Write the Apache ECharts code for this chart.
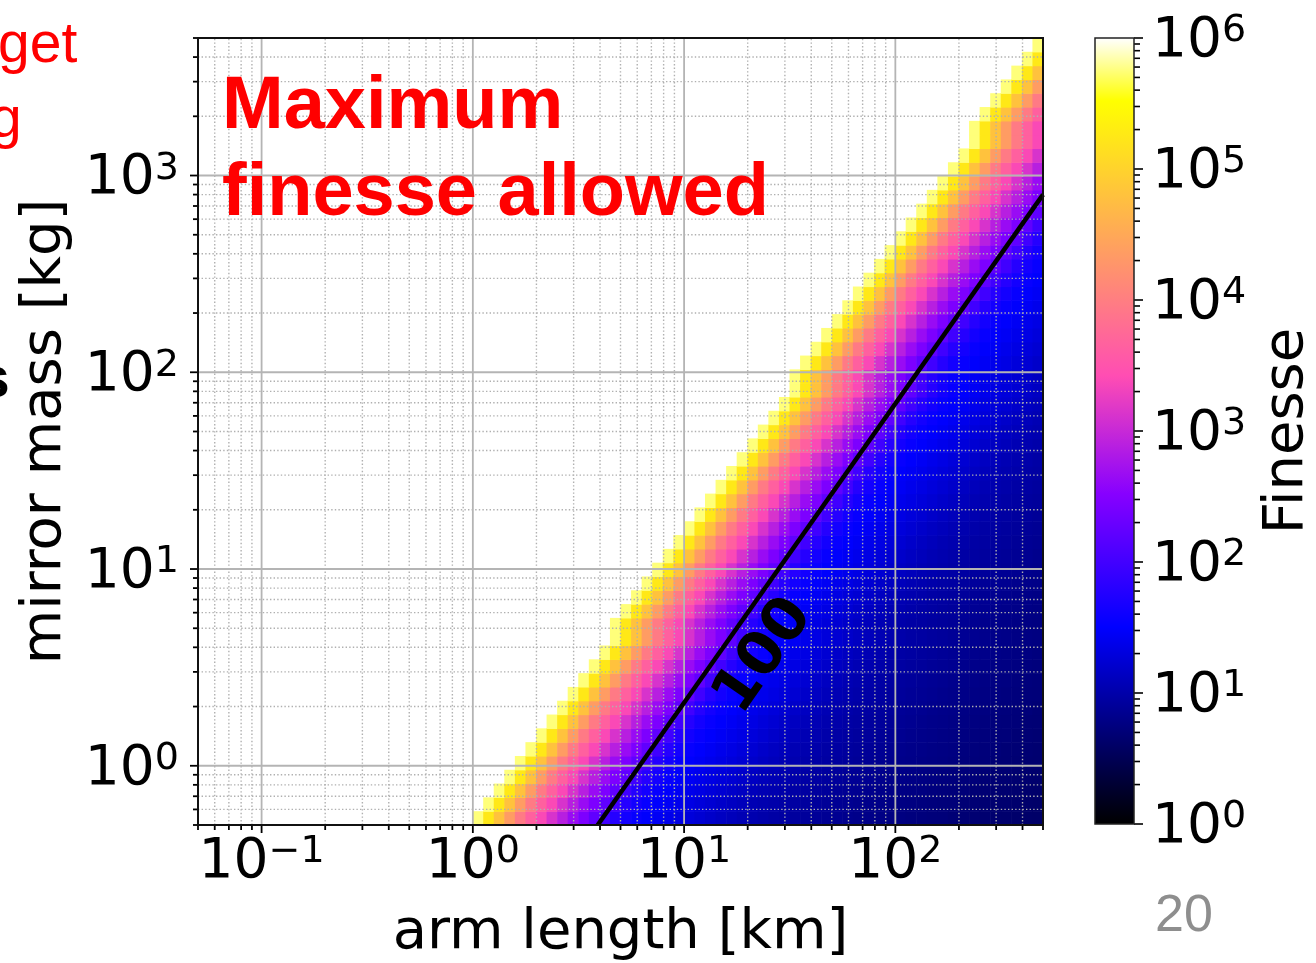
<!DOCTYPE html>
<html>
<head>
<meta charset="utf-8">
<script src="https://cdn.jsdelivr.net/npm/echarts@6/dist/echarts.min.js"></script>
<style>
html, body { margin: 0; padding: 0; background: #ffffff; overflow: hidden; }
#chart { width: 1316px; height: 963px; }
</style>
</head>
<body>
<div id="chart"></div>
<script>
// ================= DATA =================
// cell edges of the arm-length grid [km]
const armLengthEdges = [
  0.05, 0.0561, 0.06295, 0.07063, 0.07924, 0.08891, 0.09976, 0.11194, 0.12559, 0.14092,
  0.15811, 0.17741, 0.19905, 0.22334, 0.25059, 0.28117, 0.31548, 0.35397, 0.39716, 0.44563,
  0.5, 0.561, 0.6295, 0.7063, 0.7924, 0.8891, 0.9976, 1.1194, 1.2559, 1.4092,
  1.5811, 1.7741, 1.9905, 2.2334, 2.5059, 2.8117, 3.1548, 3.5397, 3.9716, 4.4563,
  5, 5.61, 6.295, 7.063, 7.924, 8.891, 9.976, 11.194, 12.559, 14.092,
  15.811, 17.741, 19.905, 22.334, 25.059, 28.117, 31.548, 35.397, 39.716, 44.563,
  50, 56.1, 62.95, 70.63, 79.24, 88.91, 99.76, 111.94, 125.59, 140.92,
  158.11, 177.41, 199.05, 223.34, 250.59, 281.17, 315.48, 353.97, 397.16, 445.63,
  500
];
// cell edges of the mirror-mass grid [kg]
const mirrorMassEdges = [
  0.5, 0.5877, 0.6909, 0.8121, 0.9543, 1.1215, 1.3183, 1.5497, 1.8213, 2.1407,
  2.516, 2.957, 3.476, 4.086, 4.802, 5.644, 6.634, 7.797, 9.165, 10.77,
  12.66, 14.88, 17.49, 20.56, 24.17, 28.40, 33.39, 39.24, 46.12, 54.21,
  63.72, 74.89, 88.03, 103.45, 121.6, 142.9, 168.0, 197.5, 232.1, 272.8,
  320.7, 376.9, 443.0, 520.7, 612.0, 719.4, 845.5, 993.6, 1168, 1373,
  1613, 1896, 2229, 2620, 3079, 3619, 4254, 5000
];
// first coloured arm-length cell of every mass row (bottom row first)
const boundaryColumn = [
  26, 27, 28, 29, 30, 31, 32, 33, 34, 35, 36, 37, 38, 39,
  39, 40, 41, 42, 43, 44, 45, 46, 47, 48, 49, 50, 51, 52, 53, 54, 55, 56,
  56, 57, 58, 59, 60, 61, 62, 63, 64, 65, 66, 67, 68, 69, 70, 71, 72, 73,
  73, 74, 75, 76, 77, 78, 79
];
// log10(finesse) of the cells of a row, counted from its first coloured cell
const log10FinesseProfile = [
  5.75, 5.25, 4.8, 4.35, 3.95, 3.65, 3.38, 3.12, 2.88, 2.65,
  2.44, 2.22, 1.98, 1.78, 1.64, 1.55, 1.49, 1.44, 1.39, 1.34,
  1.29, 1.24, 1.19, 1.14, 1.1, 1.06, 1.03, 1.0, 0.97, 0.95,
  0.93, 0.91, 0.89, 0.87, 0.85, 0.83, 0.81, 0.8, 0.78, 0.77,
  0.76, 0.74, 0.73, 0.72, 0.71, 0.69, 0.68, 0.67, 0.66, 0.65,
  0.64, 0.63, 0.62, 0.61
];
// contour line finesse = 100 : [arm length km, mirror mass kg]
const contour100 = [[3.9, 0.5], [500, 800]];
const contourLabelPoint = [[24, 3.6]];
const contourLabelText = '100';

const armRange = [0.05, 500];
const massRange = [0.5, 5000];
const finesseRange = [1, 1e6];

const xMajorTicks = [0.1, 1, 10, 100];
const xMinorTicks = [0.05, 0.06, 0.07, 0.08, 0.09, 0.2, 0.3, 0.4, 0.5, 0.6, 0.7, 0.8, 0.9,
  2, 3, 4, 5, 6, 7, 8, 9, 20, 30, 40, 50, 60, 70, 80, 90, 200, 300, 400, 500];
const yMajorTicks = [1, 10, 100, 1000];
const yMinorTicks = [0.5, 0.6, 0.7, 0.8, 0.9, 2, 3, 4, 5, 6, 7, 8, 9,
  20, 30, 40, 50, 60, 70, 80, 90, 200, 300, 400, 500, 600, 700, 800, 900, 2000, 3000, 4000, 5000];
const cbMajorTicks = [1, 10, 100, 1000, 10000, 100000, 1000000];
const cbMinorTicks = [2, 3, 4, 5, 6, 7, 8, 9, 20, 30, 40, 50, 60, 70, 80, 90,
  200, 300, 400, 500, 600, 700, 800, 900, 2000, 3000, 4000, 5000, 6000, 7000, 8000, 9000,
  20000, 30000, 40000, 50000, 60000, 70000, 80000, 90000,
  200000, 300000, 400000, 500000, 600000, 700000, 800000, 900000];

// ================= helpers =================
function clamp01(v) { return Math.max(0, Math.min(1, v)); }
// matplotlib "gnuplot2" colormap
function gnuplot2(t) {
  t = clamp01(t);
  const r = clamp01(t / 0.32 - 0.78125);
  const g = clamp01(2 * t - 0.84);
  let b;
  if (t < 0.25) b = 4 * t;
  else if (t < 0.42) b = 1;
  else if (t < 0.92) b = -2 * t + 1.84;
  else b = t / 0.08 - 11.5;
  b = clamp01(b);
  return 'rgb(' + Math.round(r * 255) + ',' + Math.round(g * 255) + ',' + Math.round(b * 255) + ')';
}
const gnuplot2Stops = [
  { offset: 0, color: 'rgb(0,0,0)' },
  { offset: 0.25, color: 'rgb(0,0,255)' },
  { offset: 0.42, color: 'rgb(135,0,255)' },
  { offset: 0.57, color: 'rgb(255,77,179)' },
  { offset: 0.92, color: 'rgb(255,255,0)' },
  { offset: 1, color: 'rgb(255,255,255)' }
];

function powLabel(v) {
  const e = Math.log10(v);
  const n = Math.round(e);
  if (Math.abs(e - n) > 1e-6) return '';
  return '{b|10}{s|' + (n < 0 ? '\u2212' + (-n) : String(n)) + '}';
}
const FONT = 'DejaVu Sans';
const richTick = {
  b: { fontFamily: FONT, fontSize: 55, color: '#000', lineHeight: 56, padding: [7, 0, 0, 0] },
  s: { fontFamily: FONT, fontSize: 38, color: '#000', lineHeight: 50, padding: [0, 0, 13, 0] }
};

// heatmap cells built from the arrays above
const cells = [];
for (let r = 0; r < mirrorMassEdges.length - 1; r++) {
  const start = boundaryColumn[r];
  for (let c = start; c < armLengthEdges.length - 1; c++) {
    const k = c - start;
    if (k >= log10FinesseProfile.length) break;
    cells.push([armLengthEdges[c], mirrorMassEdges[r], armLengthEdges[c + 1], mirrorMassEdges[r + 1], log10FinesseProfile[k]]);
  }
}

const tickStyle = { stroke: '#000', lineWidth: 1.8 };
const majorGridStyle = { stroke: '#b4b4b4', lineWidth: 1.8 };
const minorGridStyle = { stroke: '#b0b0b0', lineWidth: 1.4, lineDash: [1.4, 2.2] };

function xLinesRenderer(len, gridStyle) {
  return function (params, api) {
    const v = api.value(0);
    const bot = api.coord([v, massRange[0]]);
    const top = api.coord([v, massRange[1]]);
    return {
      type: 'group', children: [
        { type: 'line', shape: { x1: bot[0], y1: bot[1], x2: top[0], y2: top[1] }, style: gridStyle },
        { type: 'line', shape: { x1: bot[0], y1: bot[1], x2: bot[0], y2: bot[1] + len }, style: tickStyle }
      ]
    };
  };
}
function yLinesRenderer(len, gridStyle) {
  return function (params, api) {
    const v = api.value(1);
    const l = api.coord([armRange[0], v]);
    const r = api.coord([armRange[1], v]);
    return {
      type: 'group', children: [
        { type: 'line', shape: { x1: l[0], y1: l[1], x2: r[0], y2: r[1] }, style: gridStyle },
        { type: 'line', shape: { x1: l[0], y1: l[1], x2: l[0] - len, y2: l[1] }, style: tickStyle }
      ]
    };
  };
}
function cbTickRenderer(len) {
  return function (params, api) {
    const p = api.coord([1, api.value(1)]);
    return { type: 'line', shape: { x1: p[0], y1: p[1], x2: p[0] + len, y2: p[1] }, style: { stroke: '#000', lineWidth: 1.6 } };
  };
}

const chart = echarts.init(document.getElementById('chart'), null, { renderer: 'canvas' });
chart.setOption({
  animation: false,
  backgroundColor: '#ffffff',
  grid: [
    { left: 198, top: 38, width: 845, height: 787, show: true, borderColor: '#111', borderWidth: 2, backgroundColor: 'transparent', z: 5, outerBoundsMode: 'none', containLabel: false },
    { left: 1095, top: 38, width: 39, height: 786, show: true, borderColor: '#222', borderWidth: 1.5, backgroundColor: 'transparent', z: 5, outerBoundsMode: 'none', containLabel: false }
  ],
  xAxis: [
    {
      gridIndex: 0, type: 'log', logBase: 10, min: armRange[0], max: armRange[1], z: 5,
      name: 'arm length [km]', nameLocation: 'middle', nameGap: 108,
      nameTextStyle: { fontFamily: FONT, fontSize: 56, color: '#000', align: 'center', verticalAlign: 'middle' },
      axisLine: { show: false }, axisTick: { show: false }, splitLine: { show: false }, minorTick: { show: false },
      axisLabel: { formatter: powLabel, margin: 6, rich: richTick, fontFamily: FONT, color: '#000' }
    },
    { gridIndex: 1, type: 'value', min: 0, max: 1, show: false, splitLine: { show: false } }
  ],
  yAxis: [
    {
      gridIndex: 0, type: 'log', logBase: 10, min: massRange[0], max: massRange[1], z: 5,
      name: 'mirror mass [kg]', nameLocation: 'middle', nameGap: 153, nameRotate: 90,
      nameTextStyle: { fontFamily: FONT, fontSize: 56, color: '#000', align: 'center', verticalAlign: 'middle' },
      axisLine: { show: false }, axisTick: { show: false }, splitLine: { show: false }, minorTick: { show: false },
      axisLabel: { formatter: powLabel, margin: 19, rich: richTick, fontFamily: FONT, color: '#000' }
    },
    {
      gridIndex: 1, type: 'log', logBase: 10, min: finesseRange[0], max: finesseRange[1], position: 'right', z: 5,
      name: 'Finesse', nameLocation: 'middle', nameGap: 153, nameRotate: 90,
      nameTextStyle: { fontFamily: FONT, fontSize: 56, color: '#000', align: 'center', verticalAlign: 'middle' },
      axisLine: { show: false }, axisTick: { show: false }, splitLine: { show: false }, minorTick: { show: false },
      axisLabel: { formatter: powLabel, margin: 18, rich: richTick, fontFamily: FONT, color: '#000' }
    }
  ],
  series: [
    {
      name: 'finesse', type: 'custom', xAxisIndex: 0, yAxisIndex: 0, z: 1, clip: true, silent: true,
      data: cells, encode: { x: [0, 2], y: [1, 3] },
      renderItem: function (params, api) {
        const p0 = api.coord([api.value(0), api.value(1)]);
        const p1 = api.coord([api.value(2), api.value(3)]);
        return {
          type: 'rect',
          shape: { x: Math.min(p0[0], p1[0]), y: Math.min(p0[1], p1[1]), width: Math.abs(p1[0] - p0[0]) + 0.6, height: Math.abs(p1[1] - p0[1]) + 0.6 },
          style: { fill: gnuplot2(api.value(4) / 6) }
        };
      }
    },
    { type: 'custom', xAxisIndex: 0, yAxisIndex: 0, z: 3, clip: false, silent: true,
      data: xMinorTicks.map(v => [v, massRange[0]]), encode: { x: 0, y: 1 }, renderItem: xLinesRenderer(5, minorGridStyle) },
    { type: 'custom', xAxisIndex: 0, yAxisIndex: 0, z: 3, clip: false, silent: true,
      data: yMinorTicks.map(v => [armRange[0], v]), encode: { x: 0, y: 1 }, renderItem: yLinesRenderer(5, minorGridStyle) },
    { type: 'custom', xAxisIndex: 0, yAxisIndex: 0, z: 3, clip: false, silent: true,
      data: xMajorTicks.map(v => [v, massRange[0]]), encode: { x: 0, y: 1 }, renderItem: xLinesRenderer(8, majorGridStyle) },
    { type: 'custom', xAxisIndex: 0, yAxisIndex: 0, z: 3, clip: false, silent: true,
      data: yMajorTicks.map(v => [armRange[0], v]), encode: { x: 0, y: 1 }, renderItem: yLinesRenderer(8, majorGridStyle) },
    {
      name: 'F = 100', type: 'line', xAxisIndex: 0, yAxisIndex: 0, z: 4, clip: true, silent: true,
      data: contour100, symbol: 'none', lineStyle: { color: '#000', width: 4.5 }
    },
    {
      type: 'scatter', xAxisIndex: 0, yAxisIndex: 0, z: 6, silent: true, clip: false,
      data: contourLabelPoint, symbol: 'circle', symbolSize: 2, itemStyle: { color: 'rgba(0,0,0,0)' },
      label: { show: true, position: 'inside', formatter: contourLabelText, rotate: 55, opacity: 1,
        fontFamily: FONT, fontWeight: 'bold', fontSize: 60, color: '#000' },
      labelLayout: { hideOverlap: false }
    },
    {
      type: 'custom', xAxisIndex: 1, yAxisIndex: 1, z: 1, clip: false, silent: true,
      data: [[0, finesseRange[0], 1, finesseRange[1]]], encode: { x: [0, 2], y: [1, 3] },
      renderItem: function (params, api) {
        const p0 = api.coord([api.value(0), api.value(1)]);
        const p1 = api.coord([api.value(2), api.value(3)]);
        return {
          type: 'rect',
          shape: { x: p0[0], y: p1[1], width: p1[0] - p0[0], height: p0[1] - p1[1] },
          style: { fill: new echarts.graphic.LinearGradient(0, 1, 0, 0, gnuplot2Stops) }
        };
      }
    },
    { type: 'custom', xAxisIndex: 1, yAxisIndex: 1, z: 3, clip: false, silent: true,
      data: cbMinorTicks.map(v => [1, v]), encode: { x: 0, y: 1 }, renderItem: cbTickRenderer(6) },
    { type: 'custom', xAxisIndex: 1, yAxisIndex: 1, z: 3, clip: false, silent: true,
      data: cbMajorTicks.map(v => [1, v]), encode: { x: 0, y: 1 }, renderItem: cbTickRenderer(9) }
  ],
  graphic: [
    { type: 'text', x: 222, y: 108, z: 100, silent: true,
      style: { text: 'Maximum', fill: '#ff0000', fontFamily: 'Liberation Sans', fontWeight: 'bold', fontSize: 74, verticalAlign: 'middle', align: 'left' } },
    { type: 'text', x: 222, y: 195, z: 100, silent: true,
      style: { text: 'finesse allowed', fill: '#ff0000', fontFamily: 'Liberation Sans', fontWeight: 'bold', fontSize: 74, verticalAlign: 'middle', align: 'left' } },
    { type: 'text', x: -2, y: 46, z: 100, silent: true,
      style: { text: 'get', fill: '#ff0000', fontFamily: 'Liberation Sans', fontSize: 57, verticalAlign: 'middle', align: 'left' } },
    { type: 'text', x: -10, y: 121, z: 100, silent: true,
      style: { text: 'g', fill: '#ff0000', fontFamily: 'Liberation Sans', fontSize: 57, verticalAlign: 'middle', align: 'left' } },
    { type: 'text', x: -22, y: 381, z: 100, silent: true,
      style: { text: 's', fill: '#000000', fontFamily: 'Liberation Sans', fontWeight: 'bold', fontSize: 57, verticalAlign: 'middle', align: 'left' } },
    { type: 'text', x: 1155, y: 917, z: 100, silent: true,
      style: { text: '20', fill: '#8e8e8e', fontFamily: 'Liberation Sans', fontSize: 52, verticalAlign: 'middle', align: 'left' } }
  ]
});
</script>
</body>
</html>
